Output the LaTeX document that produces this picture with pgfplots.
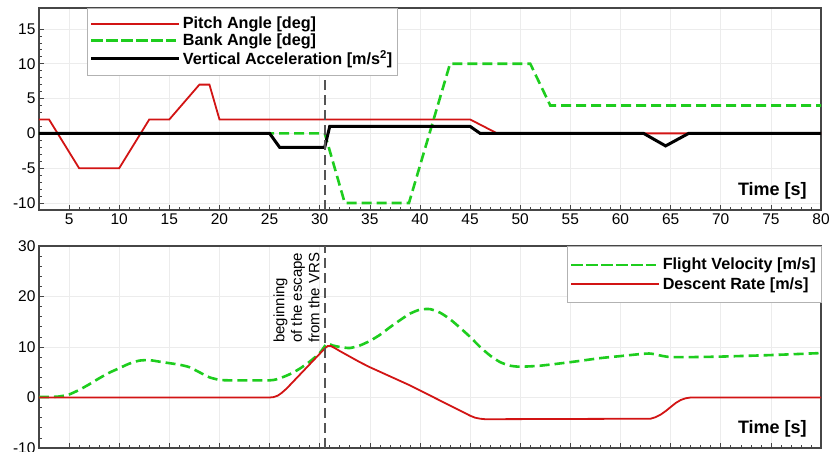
\documentclass[border=0pt]{standalone}
\usepackage{fontspec}
\setmainfont{Liberation Sans}
\usepackage{pgfplots}
\pgfplotsset{compat=1.18}

\definecolor{pitchred}{RGB}{210,20,20}
\definecolor{bankgreen}{RGB}{30,205,30}
\definecolor{framegray}{RGB}{70,70,70}
\definecolor{markgray}{RGB}{85,85,85}

\tikzset{
  redline/.style={draw=pitchred, line width=1.8pt},
  greenline/.style={draw=bankgreen, line width=2.6pt, dash pattern=on 10pt off 5pt},
  blackline/.style={draw=black, line width=3pt},
}

\pgfplotsset{
  panel/.style={
    scale only axis, width=782pt, height=202pt,
    xmin=2, xmax=80,
    xtick={5,10,...,80},
    minor x tick num=4,
    grid=major, major grid style={gray!15, line width=0.6pt},
    axis line style={framegray, line width=1.1pt},
    tick style={framegray, line width=0.6pt},
    major tick length=5pt, minor tick length=3pt,
    tick pos=left,
    tick label style={font=\fontsize{15.5}{18}\selectfont},
    /pgf/number format/assume math mode=true,
    legend style={font=\fontsize{16.2}{18}\selectfont\bfseries,
      draw=gray!60, fill=white, inner xsep=3pt,
      cells={anchor=west}},
  },
  keyline/.style={legend image code/.code={
      \path (-2pt,0pt) -- (86pt,0pt);
      \draw[#1] (0pt,0pt) -- (74pt,0pt);}},
}

\begin{document}
\begin{tikzpicture}
\useasboundingbox (-39pt,-4pt) rectangle (794pt,448pt);

% upper panel: attitude and vertical acceleration
\begin{axis}[panel,
    at={(0pt,238pt)}, anchor=south west,
    ymin=-11, ymax=18,
    ytick={-10,-5,0,5,10,15},
    minor y tick num=4,
    legend style={at={(rel axis cs:0.061,1)}, anchor=north west,
      inner ysep=7pt, row sep=-0.5pt},
]
\addplot[redline, keyline=redline] coordinates {
  (2,2)(3,2)(6,-5)(10,-5)(13,2)(15,2)(18,7)(19,7)(20,2)(45,2)(47.7,0)(80,0)
};
\addlegendentry{Pitch Angle [deg]}
\addplot[greenline, keyline=greenline] coordinates {
  (2,0)(25,0)(30.5,0)(32.5,-10)(38.9,-10)(43,10)(51,10)(53,4)(80,4)
};
\addlegendentry{Bank Angle [deg]}
\addplot[blackline, keyline=blackline] coordinates {
  (2,0)(25,0)(26,-2)(30.5,-2)(31,1)(45,1)(46,0)(62.3,0)(64.5,-1.8)(66.8,0)(80,0)
};
\addlegendentry{Vertical Acceleration [m/s\textsuperscript{2}]}
\draw[markgray, line width=1.8pt, dash pattern=on 10pt off 5pt]
  (axis cs:30.5,-11) -- (axis cs:30.5,18);
\node[anchor=south east, font=\fontsize{18}{20}\selectfont\bfseries, inner sep=0pt]
  at (rel axis cs:0.982,0.05) {Time [s]};
\end{axis}

% lower panel: velocities
\begin{axis}[panel,
    at={(0pt,0pt)}, anchor=south west,
    ymin=-10, ymax=30,
    ytick={-10,0,10,20,30},
    minor y tick num=4,
    xticklabels={},
    legend style={at={(rel axis cs:1,1)}, anchor=north east,
      inner ysep=10pt, row sep=2pt},
]
\addplot[greenline, smooth, tension=0.4, keyline=greenline] coordinates {
  (2,0.1)(3,0.1)(4,0.2)(5,0.6)(6,1.5)(7,2.6)(8,3.8)(9,4.9)(10,5.8)(11,6.7)
  (12,7.3)(13,7.4)(14,7.1)(15,6.8)(16,6.5)(17,6.0)(18,5.0)(19,4.0)(20,3.5)
  (21,3.4)(25,3.4)(26,3.8)(27,4.6)(28,5.7)(29,7.1)(30,8.8)(30.7,10.6)
  (31.3,10.3)(32,10.0)(33,9.8)(34,10.3)(35,11.2)(36,12.4)(37,13.9)(38,15.3)
  (39,16.6)(40,17.4)(41,17.5)(42,16.8)(43,15.5)(44,13.8)(45,12.0)(46,10.0)
  (47,8.3)(48,7.0)(49,6.3)(50,6.1)(52,6.3)(55,7.0)(58,7.8)(60,8.2)(62,8.6)
  (63,8.7)(64,8.3)(65,8.0)(67,8.0)(70,8.1)(75,8.4)(80,8.8)
};
\addlegendentry{Flight Velocity [m/s]}
\addplot[redline, keyline=redline] coordinates {
  (2,0)(25,0)(25.4,0.08)(25.8,0.35)(26.2,0.9)(26.6,1.6)(27,2.4)(30.5,9.7)
  (30.8,10.2)(31.1,10.2)(31.5,9.8)(32,9.2)(33,8.1)(34,7.0)(35,6.0)(37,4.2)
  (39,2.4)(41,0.4)(43,-1.6)(45,-3.6)(45.5,-4.0)(46,-4.2)(46.5,-4.3)(63,-4.2)
  (63.5,-3.9)(64,-3.4)(64.5,-2.7)(65,-1.9)(65.5,-1.1)(66,-0.5)(66.5,-0.15)
  (67,0)(80,0)
};
\addlegendentry{Descent Rate [m/s]}
\draw[markgray, line width=1.8pt, dash pattern=on 10pt off 5pt]
  (axis cs:30.5,-10) -- (axis cs:30.5,30);
\node[rotate=90, anchor=south west, align=left, inner sep=0pt,
      font=\fontsize{15}{17.5}\selectfont]
  at (axis cs:30.0,10.8) {beginning\\of the escape\\from the VRS};
\node[anchor=south east, font=\fontsize{18}{20}\selectfont\bfseries, inner sep=0pt]
  at (rel axis cs:0.982,0.05) {Time [s]};
\end{axis}
\end{tikzpicture}
\end{document}
